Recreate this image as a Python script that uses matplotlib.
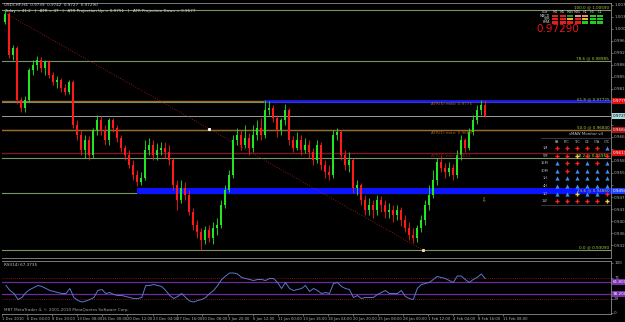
import matplotlib
matplotlib.use('Agg')
import matplotlib.pyplot as plt
import numpy as np

W, H = 625, 322

# ---------------- data (USDCHF H4) ----------------
open_first = 1.0022
close = [1.0047, 0.9919, 0.9941, 0.9778, 0.9753, 0.9778, 0.9872, 0.9887, 0.9903, 0.9878,
         0.9897, 0.9856, 0.9834, 0.9841, 0.9816, 0.9803, 0.9834, 0.9700, 0.9669, 0.9622,
         0.9653, 0.9606, 0.9684, 0.9716, 0.9684, 0.9653, 0.9716, 0.9691, 0.9659, 0.9628,
         0.9606, 0.9575, 0.9544, 0.9522, 0.9534, 0.9622, 0.9637, 0.9606, 0.9622, 0.9628,
         0.9616, 0.9591, 0.9513, 0.9466, 0.9503, 0.9481, 0.9428, 0.9388, 0.9366, 0.9341,
         0.9372, 0.9347, 0.9378, 0.9388, 0.9450, 0.9497, 0.9544, 0.9653, 0.9669, 0.9637,
         0.9659, 0.9628, 0.9669, 0.9691, 0.9669, 0.9747, 0.9753, 0.9722, 0.9684, 0.9716,
         0.9747, 0.9653, 0.9628, 0.9653, 0.9622, 0.9637, 0.9616, 0.9591, 0.9637, 0.9575,
         0.9553, 0.9544, 0.9669, 0.9678, 0.9606, 0.9575, 0.9591, 0.9503, 0.9513, 0.9466,
         0.9434, 0.9450, 0.9434, 0.9466, 0.9450, 0.9428, 0.9434, 0.9419, 0.9434, 0.9403,
         0.9378, 0.9356, 0.9347, 0.9378, 0.9403, 0.9450, 0.9481, 0.9528, 0.9584, 0.9566,
         0.9553, 0.9566, 0.9544, 0.9606, 0.9653, 0.9628, 0.9678, 0.9716, 0.9747, 0.9763,
         0.9729]
high = [1.0059, 1.0053, 0.9950, 0.9947, 0.9788, 0.9791, 0.9878, 0.9903, 0.9916, 0.9912,
        0.9903, 0.9903, 0.9866, 0.9853, 0.9847, 0.9828, 0.9841, 0.9841, 0.9716, 0.9684,
        0.9669, 0.9666, 0.9691, 0.9731, 0.9728, 0.9700, 0.9722, 0.9722, 0.9700, 0.9669,
        0.9637, 0.9622, 0.9591, 0.9559, 0.9553, 0.9653, 0.9659, 0.9653, 0.9644, 0.9647,
        0.9647, 0.9637, 0.9597, 0.9528, 0.9528, 0.9522, 0.9497, 0.9441, 0.9403, 0.9378,
        0.9384, 0.9388, 0.9397, 0.9409, 0.9466, 0.9513, 0.9559, 0.9669, 0.9691, 0.9684,
        0.9700, 0.9675, 0.9700, 0.9716, 0.9722, 0.9778, 0.9775, 0.9763, 0.9731, 0.9722,
        0.9766, 0.9753, 0.9666, 0.9678, 0.9669, 0.9659, 0.9653, 0.9628, 0.9653, 0.9647,
        0.9591, 0.9575, 0.9684, 0.9691, 0.9684, 0.9622, 0.9616, 0.9597, 0.9528, 0.9519,
        0.9481, 0.9472, 0.9466, 0.9481, 0.9478, 0.9466, 0.9456, 0.9450, 0.9450, 0.9444,
        0.9419, 0.9397, 0.9378, 0.9388, 0.9419, 0.9466, 0.9513, 0.9559, 0.9597, 0.9606,
        0.9581, 0.9584, 0.9578, 0.9622, 0.9669, 0.9659, 0.9691, 0.9731, 0.9763, 0.9778,
        0.9778]
low = [1.0016, 0.9909, 0.9903, 0.9766, 0.9741, 0.9741, 0.9772, 0.9856, 0.9872, 0.9866,
       0.9856, 0.9847, 0.9825, 0.9816, 0.9803, 0.9794, 0.9797, 0.9691, 0.9653, 0.9606,
       0.9597, 0.9591, 0.9597, 0.9669, 0.9669, 0.9637, 0.9637, 0.9678, 0.9647, 0.9616,
       0.9591, 0.9566, 0.9528, 0.9509, 0.9513, 0.9528, 0.9606, 0.9591, 0.9591, 0.9606,
       0.9597, 0.9575, 0.9497, 0.9434, 0.9456, 0.9466, 0.9419, 0.9372, 0.9347, 0.9309,
       0.9328, 0.9334, 0.9328, 0.9356, 0.9378, 0.9441, 0.9491, 0.9534, 0.9637, 0.9622,
       0.9628, 0.9606, 0.9616, 0.9653, 0.9653, 0.9659, 0.9731, 0.9709, 0.9662, 0.9669,
       0.9700, 0.9637, 0.9616, 0.9622, 0.9606, 0.9613, 0.9597, 0.9575, 0.9581, 0.9559,
       0.9534, 0.9528, 0.9534, 0.9653, 0.9591, 0.9559, 0.9553, 0.9488, 0.9481, 0.9450,
       0.9419, 0.9419, 0.9409, 0.9419, 0.9428, 0.9409, 0.9409, 0.9397, 0.9403, 0.9384,
       0.9366, 0.9341, 0.9331, 0.9334, 0.9366, 0.9388, 0.9434, 0.9472, 0.9513, 0.9553,
       0.9534, 0.9541, 0.9528, 0.9534, 0.9591, 0.9616, 0.9622, 0.9669, 0.9703, 0.9731,
       0.9725]
rsi = [55, 45, 39, 27, 31, 41, 47, 51, 55, 53,
       49, 45, 43, 41, 39, 39, 49, 31, 25, 22,
       24, 27, 31, 45, 47, 39, 41, 37, 35, 35,
       33, 31, 29, 29, 31, 55, 55, 57, 55, 53,
       45, 35, 29, 33, 39, 31, 24, 22, 25, 27,
       31, 39, 45, 55, 67, 74, 80, 80, 78, 71,
       69, 67, 65, 67, 67, 65, 69, 69, 61, 49,
       61, 49, 45, 47, 49, 55, 43, 49, 45, 39,
       41, 39, 59, 61, 53, 49, 47, 31, 35, 29,
       31, 31, 31, 37, 41, 45, 39, 39, 39, 45,
       33, 29, 27, 49, 57, 59, 61, 67, 73, 71,
       69, 65, 61, 74, 74, 67, 61, 67, 71, 78,
       69]

date_labels = ['1 Dec 2010', '6 Dec 04:00', '8 Dec 20:00', '13 Dec 08:00', '16 Dec 00:00',
               '20 Dec 12:00', '23 Dec 04:00', '27 Dec 16:00', '30 Dec 08:00', '3 Jan 20:00',
               '6 Jan 12:00', '11 Jan 00:00', '13 Jan 16:00', '18 Jan 04:00', '20 Jan 20:00',
               '25 Jan 08:00', '28 Jan 00:00', '1 Feb 12:00', '4 Feb 04:00', '8 Feb 16:00',
               '11 Feb 08:00']
date_bars = [-1, 5.3, 11.6, 17.8, 24.1, 30.4, 36.7, 42.9, 49.2, 55.5, 61.8,
             68, 74.3, 80.6, 86.9, 93.1, 99.4, 105.7, 112, 118.2, 124.5]

price_ticks = [1.0075, 1.00375, 1.0, 0.99625, 0.9925, 0.98875, 0.985, 0.98125, 0.9775,
               0.97375, 0.97, 0.96625, 0.9625, 0.95875, 0.955, 0.95125, 0.9475, 0.94375,
               0.94, 0.93625, 0.9325]

fib_low, fib_high = 0.9309, 1.0059
fib_ratios = [0.0, 23.6, 38.2, 50.0, 61.8, 78.6, 100.0]
atr_levels = [0.9775, 0.9684, 0.9613]
atr_names = ['ATR(5) max: 0.9775', 'ATR(1) max: 0.9683', 'ATR(1) min: 0.9613']
atr_colors = ['#9c6a2c', '#9c6a2c', '#7a1c1c']
bid = 0.9729
blue_line = (65, 0.9775)
blue_band = (33, 0.9484, 0.9503)
trend_x = [0, 104.5]
trend_y = [1.0050, 0.9309]

axis_boxes = [(0.9775, '0.97750', '#e01010', 'white'),
              (0.9729, '0.97290', '#a8dcdc', 'black'),
              (0.9684, '0.96840', '#b01010', 'white'),
              (0.9613, '0.96130', '#e01010', 'white'),
              (0.9494, '0.94940', '#2040ff', 'white')]

# MACD / STR / EMA panel
tf_cols = ['M1', 'M5', 'M15', 'M30', 'H1', 'H4', 'D1']
panel_rows = ['MACD', 'STR', 'EMA']
panel_colors = [['#e02020', '#e02020', '#1f9a1f', '#f08a8a', '#f08a8a', '#22cc22', '#22cc22'],
                ['#e02020', '#e02020', '#e0c020', '#e02020', '#e0c020', '#22cc22', '#22cc22'],
                ['#e02020', '#e02020', '#e02020', '#e02020', '#22cc22', '#22cc22', '#22cc22']]

# sMAW monitor
mon_cols = ['PA', 'P/C', 'T/C', 'CE', 'C/A', 'C/C']
mon_rows = ['1M', '5M', '15M', '30M', '1H', '4H', '1D', '1W']
mon_sig = ['rrrrrb', 'rryrrr', 'brrbrb', 'brbbbb', 'bbbbbb', 'bbbbbb', 'bbybbr', 'rrrrry']

# ---------------- figure ----------------
fig = plt.figure(figsize=(W / 100, H / 100), dpi=100)
fig.patch.set_facecolor('black')


def fx(px):
    return px / W


def fy(py):
    return 1 - py / H


ax = fig.add_axes([fx(2), fy(258), fx(611) - fx(2), fy(3) - fy(258)])
rx = fig.add_axes([fx(2), fy(314), fx(611) - fx(2), fy(261) - fy(314)])
for a in (ax, rx):
    a.set_facecolor('black')
    for s in a.spines.values():
        s.set_color('#8c8c8c')
        s.set_linewidth(0.6)
    a.spines['left'].set_visible(False)
    a.set_xlim(-0.75, 151.5)

ax.set_ylim(0.92844, 1.00812)
rx.set_ylim(-2, 104)

# fib levels
for r in fib_ratios:
    lv = fib_low + r / 100 * (fib_high - fib_low)
    ax.axhline(lv, color='#7a9466', lw=0.8, zorder=1)
    ax.text(0.997, lv + 0.0002, f'{r:.1f} @ {lv:.5f}', transform=ax.get_yaxis_transform(),
            ha='right', va='bottom', fontsize=3.0, color='#a8d040', zorder=6)

# blue band and line
ax.fill_between([blue_band[0], 200], blue_band[1], blue_band[2], color='#0a14ff', lw=0, zorder=2)
for lv, nm, c in zip(atr_levels, atr_names, atr_colors):
    ax.axhline(lv, color=c, lw=1.0, zorder=1.5)
    ax.text(106.5, lv - 0.0003, nm, ha='left', va='top', fontsize=3.0, color=c, zorder=6)
ax.plot([blue_line[0], 200], [blue_line[1]] * 2, color='#1a1aff', lw=1.8, zorder=2)
ax.axhline(bid, color='#b4b4b4', lw=0.6, zorder=1.5)

# trendline
ax.plot(trend_x, trend_y, color='#b02020', lw=0.6, ls=(0, (1, 2)), zorder=2)
ax.plot([51], [0.9688], 's', ms=1.2, color='white', zorder=5)
ax.plot(trend_x[1:], trend_y[1:], 's', ms=1.2, color='#f0e0a0', zorder=5)

# candles
o = np.array([open_first] + close[:-1])
c = np.array(close)
idx = np.arange(len(c))
cols = np.where(c >= o, '#22e622', '#ff1a1a')
ax.vlines(idx, low, high, colors=cols, lw=0.6, zorder=3)
ax.bar(idx, np.abs(c - o), bottom=np.minimum(o, c), width=0.5, color=cols, lw=0, zorder=3)
ax.text(119.5, 0.9466, '\u21e9', fontsize=4, color='#b0c030', ha='center', va='center', zorder=6)

# price axis: labels hidden where a coloured value box sits
box_vals = [b[0] for b in axis_boxes]
shown = ['' if min(abs(v - bv) for bv in box_vals) < 0.0019 else f'{v:.5f}' for v in price_ticks]
ax.yaxis.tick_right()
ax.set_yticks(price_ticks)
ax.set_yticklabels(shown)
ax.set_xticks([])
ax.tick_params(axis='y', colors='#8c8c8c', labelcolor='#b0b0b0', labelsize=3.0,
               length=1.5, width=0.5, pad=0.8)
for lv, txt, bg, tc in axis_boxes:
    ax.text(1.003, lv, txt, transform=ax.get_yaxis_transform(), ha='left', va='center',
            fontsize=3.0, color=tc, zorder=7, clip_on=False,
            bbox=dict(boxstyle='square,pad=0.25', fc=bg, ec='none'))

# RSI pane
rx.plot(idx, rsi, color='#5a78d0', lw=0.7, zorder=3)
for lv in (71, 29):
    rx.axhline(lv, color='#a01818', lw=0.6, ls=(0, (1, 1.5)))
for lv in (61.8, 38.2):
    rx.axhline(lv, color='#6a2c9a', lw=0.9)
    rx.text(1.003, lv, f'{lv:.4f}', transform=rx.get_yaxis_transform(), ha='left',
            va='center', fontsize=3.0, color='white', clip_on=False,
            bbox=dict(boxstyle='square,pad=0.25', fc='#7a30b0', ec='none'))
rx.yaxis.tick_right()
rx.set_yticks([100, 71, 29, 0])
rx.set_yticklabels(['100', '71', '29', '0'])
rx.tick_params(axis='y', colors='#8c8c8c', labelcolor='#b0b0b0', labelsize=3.0,
               length=1.5, width=0.5, pad=0.8)
rx.set_xticks(date_bars)
rx.set_xticklabels(date_labels, ha='left')
rx.tick_params(axis='x', colors='#8c8c8c', labelcolor='#b0b0b0', labelsize=2.7,
               length=1.5, width=0.5, pad=1)
rx.text(0.003, 0.97, 'RSI(14) 67.3735', transform=rx.transAxes, ha='left', va='top',
        fontsize=3.0, color='#c8c8c8')
rx.text(0.003, 0.03, 'MBT MetaTrader 4, \u00a9 2001-2010 MetaQuotes Software Corp.',
        transform=rx.transAxes, ha='left', va='bottom', fontsize=3.0, color='#a0a0a0')

# overlay in pixel units for the on-chart widgets
ov = fig.add_axes([0, 0, 1, 1])
ov.set_xlim(0, W)
ov.set_ylim(H, 0)
ov.axis('off')
ov.patch.set_alpha(0)

ov.text(4, 2.5, 'USDCHF,H4  0.9739  0.9742  0.9727  0.97290', fontsize=3.0,
        color='#d0d0d0', va='top')
ov.text(4, 8.5, 'Today = 41.2   |   ATR = 47   |   ATR Projection Up = 0.9751   |   '
        'ATR Projection Down = 0.9677', fontsize=3.0, color='#d0d0d0', va='top')

# MACD panel
ov.text(545, 12, 'Cur', fontsize=2.6, color='#d0d0d0', ha='center', va='center')
for j, name in enumerate(tf_cols):
    x0 = 552 + 7.5 * j
    ov.text(x0 + 3, 12, name, fontsize=2.4, color='#d0d0d0', ha='center', va='center')
    for r, rowc in enumerate(panel_colors):
        ov.add_patch(plt.Rectangle((x0, 15 + 3.1 * r), 6, 2.3, fc=rowc[j], ec='none'))
for r, name in enumerate(panel_rows):
    ov.text(550, 16.2 + 3.1 * r, name, fontsize=2.4, color='#d0d0d0', ha='right', va='center')
ov.text(579, 28.5, '0.97290', fontsize=7.5, color='#e01818', ha='right', va='center')

# sMAW monitor
ov.text(586, 136, 'sMAW Monitor v4', fontsize=2.8, color='#c0c0c0', ha='center', va='bottom')
ov.plot([541, 610], [137.5, 137.5], color='#505050', lw=0.5)
ov.plot([541, 610], [205, 205], color='#505050', lw=0.5)
for j, name in enumerate(mon_cols):
    ov.text(557 + 10 * j, 142, name, fontsize=2.6, color='#c0c0c0', ha='center', va='center')
sig_col = {'r': '#ff2020', 'b': '#3d8ff0', 'y': '#f0d040'}
sig_mk = {'r': 'P', 'b': '^', 'y': 'P'}
for r, name in enumerate(mon_rows):
    yy = 148 + 7.6 * r
    ov.text(545, yy, name, fontsize=2.6, color='#c0c0c0', ha='center', va='center')
    for j, s in enumerate(mon_sig[r]):
        ov.plot(557 + 10 * j, yy, sig_mk[s], color=sig_col[s], ms=3, mew=0)

fig.savefig('out.png', dpi=100, facecolor='black')
